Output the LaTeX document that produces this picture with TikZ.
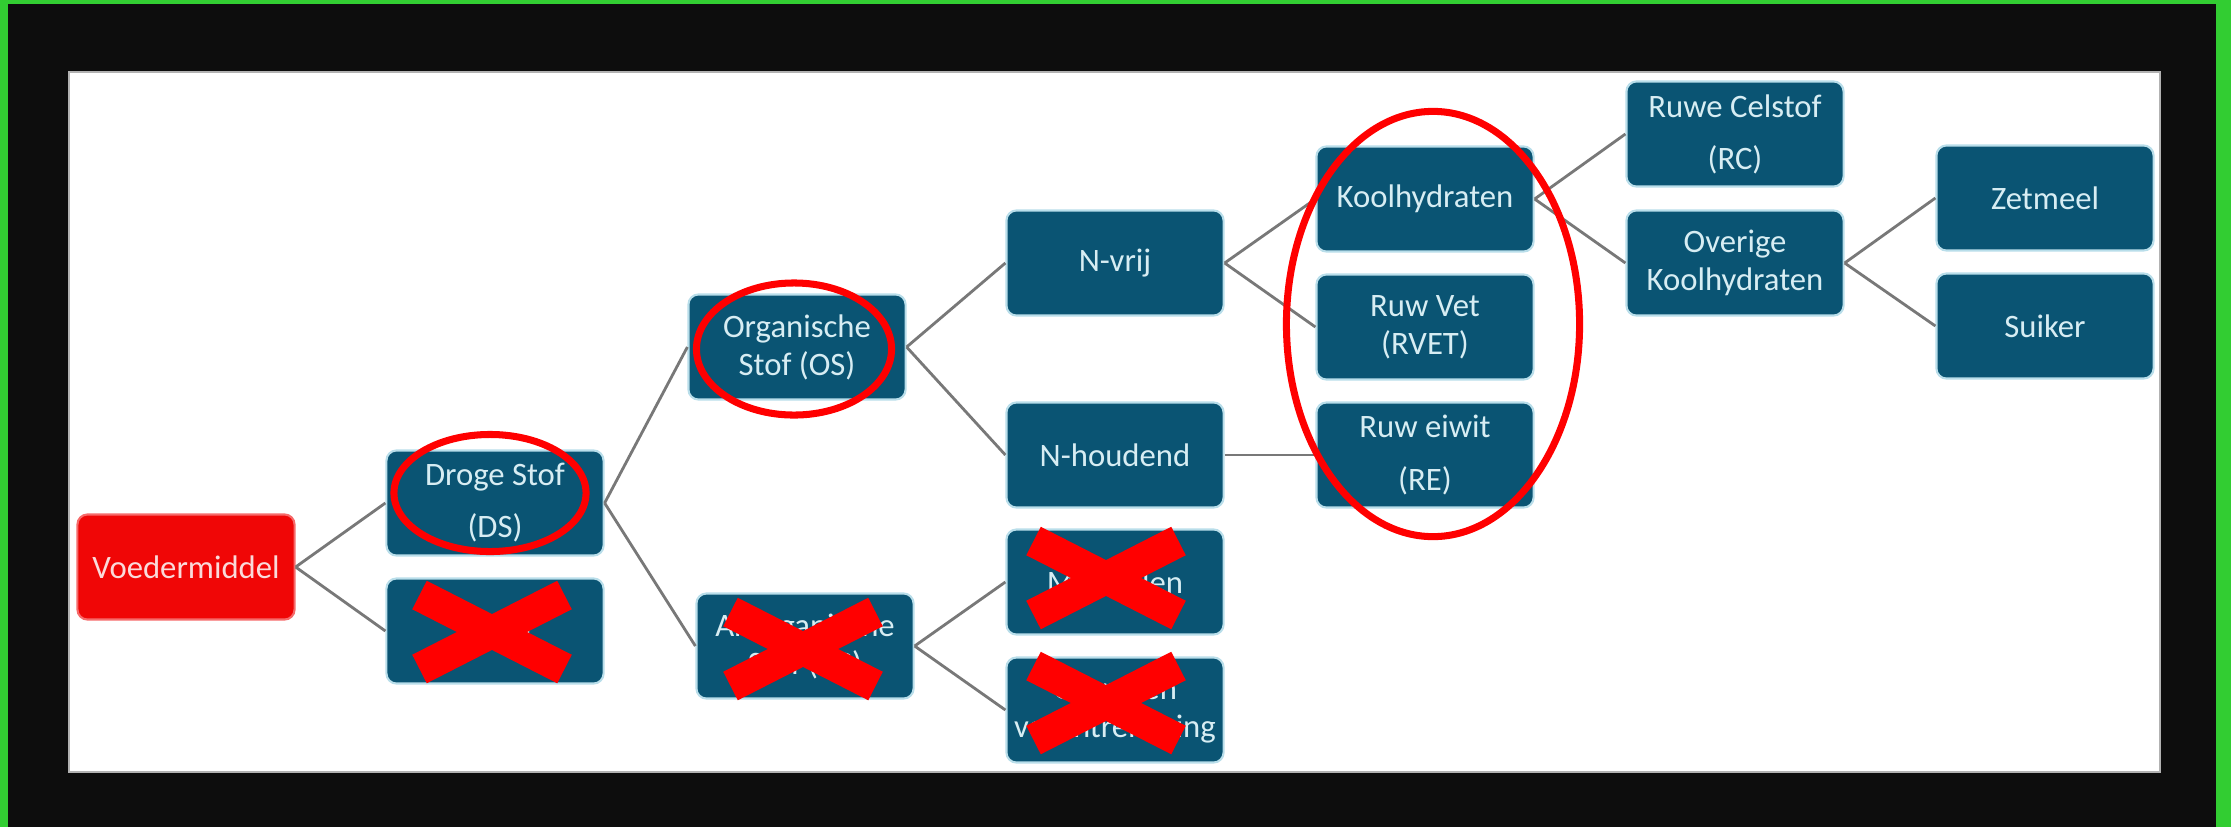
\documentclass[tikz,border=0pt]{standalone}
\usepackage{fontspec}
\setmainfont{Carlito}
\usepackage{xcolor}

\definecolor{kader}{RGB}{50,205,50}
\definecolor{zwart}{RGB}{13,13,13}
\definecolor{blok}{RGB}{10,84,115}
\definecolor{gloed}{RGB}{185,222,234}
\definecolor{tekst}{RGB}{215,237,243}
\definecolor{lijn}{RGB}{120,120,120}
\definecolor{rood}{RGB}{255,0,0}
\definecolor{voerrood}{RGB}{240,6,6}
\definecolor{voertekst}{RGB}{250,218,218}

\newcommand{\kruis}[1]{\draw[kruisbalk,shift={(#1)}] (-72.5,-37) -- (72.5,37) (-72.5,37) -- (72.5,-37);}

\begin{document}
\begin{tikzpicture}[x=0.01cm,y=-0.01cm]
\tikzset{vak/.style={draw=gloed,line width=0.6pt,fill=blok,rounded corners=0.1cm,minimum width=2.17cm,minimum height=1.05cm,inner sep=0pt,align=center,text=tekst,font=\fontsize{9.3}{10.8}\selectfont}}
\tikzset{tak/.style={draw=lijn,line width=0.8pt}}
\tikzset{ring/.style={draw=rood,line width=2pt}}
\tikzset{kruisbalk/.style={draw=rood,line width=9.1pt}}

\fill[kader] (0,0) rectangle (2231,827);
\fill[zwart] (8,4) rectangle (2216,827);
\filldraw[fill=white,draw=gray!60,line width=0.6pt] (69,72) rectangle (2160,772);
\useasboundingbox (0,0) rectangle (2231,827);

\node[vak,fill=voerrood,draw=voerrood!60,text=voertekst] (voer) at (186,567) {Voedermiddel};
\node[vak] (ds) at (495,503) {Droge Stof\\[4pt](DS)};
\node[vak] (water) at (495,631) {Water};
\node[vak] (os) at (797,347) {Organische\\Stof (OS)};
\node[vak] (as) at (805,646) {Anorganische\\Stof (AS)};
\node[vak] (nvrij) at (1115,263) {N-vrij};
\node[vak] (nhoud) at (1115,455) {N-houdend};
\node[vak] (min) at (1115,582) {Mineralen};
\node[vak] (grond) at (1115,710) {Grond en\\verontreiniging};
\node[vak] (kh) at (1425,199) {Koolhydraten};
\node[vak] (rvet) at (1425,327) {Ruw Vet\\(RVET)};
\node[vak] (re) at (1425,455) {Ruw eiwit\\[4pt](RE)};
\node[vak] (rc) at (1735,134) {Ruwe Celstof\\[4pt](RC)};
\node[vak] (ok) at (1735,263) {Overige\\Koolhydraten};
\node[vak] (zet) at (2045,198) {Zetmeel};
\node[vak] (sui) at (2045,326) {Suiker};

\draw[tak] (voer.east) -- (ds.west);
\draw[tak] (voer.east) -- (water.west);
\draw[tak] (ds.east) -- (os.west);
\draw[tak] (ds.east) -- (as.west);
\draw[tak] (os.east) -- (nvrij.west);
\draw[tak] (os.east) -- (nhoud.west);
\draw[tak] (as.east) -- (min.west);
\draw[tak] (as.east) -- (grond.west);
\draw[tak] (nvrij.east) -- (kh.west);
\draw[tak] (nvrij.east) -- (rvet.west);
\draw[tak] (nhoud.east) -- (re.west);
\draw[tak] (kh.east) -- (rc.west);
\draw[tak] (kh.east) -- (ok.west);
\draw[tak] (ok.east) -- (zet.west);
\draw[tak] (ok.east) -- (sui.west);

\draw[ring] (490,493) ellipse [x radius=0.96cm,y radius=0.585cm];
\draw[ring] (794,349) ellipse [x radius=0.975cm,y radius=0.66cm];
\draw[ring] (1433,324) ellipse [x radius=1.465cm,y radius=2.125cm];

\kruis{492,632}
\kruis{803,649}
\kruis{1106,578}
\kruis{1106,703}

\end{tikzpicture}
\end{document}
